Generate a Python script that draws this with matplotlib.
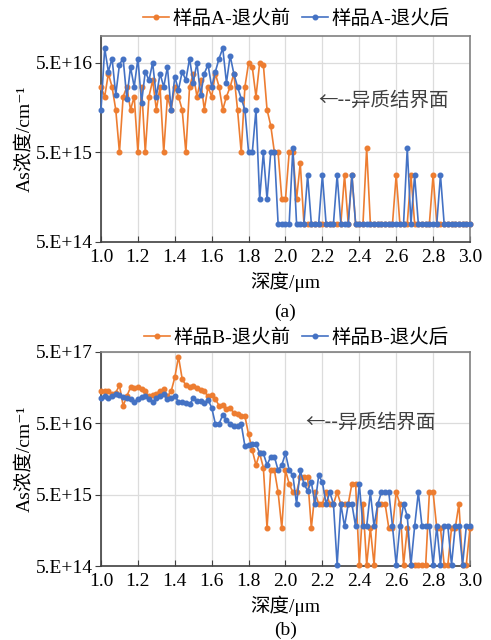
import numpy as np
import matplotlib
matplotlib.use("Agg")
import matplotlib.pyplot as plt

plt.rcParams['font.family'] = ['Liberation Serif', 'Noto Sans CJK SC', 'DejaVu Sans']

# depth grid, 0.02 um steps
depth = np.linspace(1.0, 3.0, 101)

# As concentration, units of 1e15 cm^-1
a_before = [27, 21, 38, 27, 15, 5, 21, 27, 15, 21,
            5, 27, 5, 21, 32, 15, 27, 5, 21, 15,
            27, 21, 15, 5, 27, 38, 21, 32, 15, 27,
            21, 38, 27, 15, 21, 27, 38, 15, 5, 27,
            50, 45, 21, 50, 48, 15, 10, 5, 5, 1.5,
            1.5, 5, 5, 1.5, 3.8, 0.8, 0.8, 0.8, 0.8, 0.8,
            0.8, 0.8, 0.8, 0.8, 0.8, 0.8, 2.8, 0.8, 2.8, 0.8,
            0.8, 0.8, 5.6, 0.8, 0.8, 0.8, 0.8, 0.8, 0.8, 0.8,
            2.8, 0.8, 0.8, 0.8, 2.8, 0.8, 0.8, 0.8, 0.8, 0.8,
            2.8, 0.8, 0.8, 0.8, 0.8, 0.8, 0.8, 0.8, 0.8, 0.8,
            0.8]
a_after = [15, 73, 40, 56, 22, 48, 56, 20, 45, 27,
           56, 18, 40, 32, 50, 21, 38, 27, 45, 15,
           35, 25, 40, 32, 56, 30, 50, 22, 38, 48,
           27, 40, 56, 73, 30, 60, 38, 27, 20, 15,
           5, 5, 15, 1.5, 5, 1.5, 5, 5, 0.8, 0.8,
           0.8, 0.8, 5.6, 0.8, 0.8, 0.8, 2.8, 0.8, 0.8, 0.8,
           2.8, 0.8, 0.8, 0.8, 2.8, 0.8, 0.8, 0.8, 2.8, 0.8,
           0.8, 0.8, 0.8, 0.8, 0.8, 0.8, 0.8, 0.8, 0.8, 0.8,
           0.8, 0.8, 0.8, 5.6, 0.8, 2.8, 0.8, 0.8, 0.8, 0.8,
           0.8, 0.8, 2.8, 0.8, 0.8, 0.8, 0.8, 0.8, 0.8, 0.8,
           0.8]
b_before = [144, 140, 144, 130, 135, 170, 88, 120, 160, 155,
            160, 150, 140, 120, 125, 130, 144, 150, 120, 140,
            220, 430, 210, 170, 160, 165, 155, 145, 140, 120,
            125, 110, 88, 90, 80, 82, 70, 68, 63, 63,
            35, 21, 13, 19, 12, 1.7, 11, 11, 5.4, 1.7,
            11, 7.1, 5.4, 5.4, 8.8, 8.8, 8.8, 1.7, 5.4, 3.7,
            3.7, 5.4, 3.7, 3.7, 5.4, 3.7, 3.7, 3.7, 7.1, 7.1,
            0.52, 3.7, 0.52, 1.7, 0.52, 3.7, 3.7, 3.7, 1.7, 1.7,
            5.4, 3.7, 0.52, 1.7, 0.52, 0.52, 0.52, 0.52, 0.52, 5.4,
            5.4, 1.7, 1.7, 0.52, 0.52, 1.7, 1.7, 3.7, 0.52, 0.52,
            1.7]
b_after = [115, 122, 112, 120, 130, 125, 118, 112, 108, 100,
           110, 118, 120, 108, 98, 112, 122, 128, 108, 112,
           122, 100, 98, 96, 92, 112, 104, 102, 96, 107,
           83, 49, 49, 66, 56, 49, 46, 46, 49, 24,
           25, 26, 26, 19, 19, 13, 17, 17, 11, 13,
           19, 11, 9.3, 3.7, 11, 7.1, 5.7, 7.5, 3.7, 9.3,
           7.5, 3.7, 5.4, 3.7, 0.52, 3.7, 1.8, 3.7, 3.7, 1.8,
           7.1, 1.8, 1.8, 5.4, 1.8, 3.7, 5.4, 5.4, 5.4, 1.8,
           0.52, 1.8, 3.7, 2.5, 0.52, 1.8, 5.4, 1.8, 1.8, 1.8,
           0.52, 1.8, 0.52, 1.8, 1.8, 0.52, 1.8, 1.8, 0.52, 1.8,
           1.8]

xticks = [1.0, 1.2, 1.4, 1.6, 1.8, 2.0, 2.2, 2.4, 2.6, 2.8, 3.0]
yticks_a = [5e14, 5e15, 5e16]
yticks_b = [5e14, 5e15, 5e16, 5e17]

ORANGE = '#ED7D31'
BLUE = '#4472C4'
FS = 14

fig = plt.figure(figsize=(4.91, 6.40), dpi=100)
ax1 = fig.add_axes([0.2057, 0.6219, 0.7515, 0.3219])
ax2 = fig.add_axes([0.2057, 0.1156, 0.7515, 0.3344])


def panel(ax, before, after, names, yticks, ylim, note_xy, legend_y, tag):
    ax.plot(depth, np.array(before) * 1e15, color=ORANGE, lw=1.2,
            marker='o', ms=3.3, label=names[0], clip_on=False, zorder=3)
    ax.plot(depth, np.array(after) * 1e15, color=BLUE, lw=1.2,
            marker='o', ms=3.3, label=names[1], clip_on=False, zorder=4)
    ax.set_yscale('log')
    ax.set_xlim(1.0, 3.0)
    ax.set_ylim(*ylim)
    ax.set_xticks(xticks)
    ax.set_xticklabels([f"{t:.1f}" for t in xticks], fontsize=FS)
    ax.set_yticks(yticks)
    ax.set_yticklabels([f"5.E+{int(np.log10(t / 5))}" for t in yticks], fontsize=FS)
    ax.yaxis.set_minor_locator(plt.NullLocator())
    ax.grid(True, color='#dcdcdc', lw=0.9)
    ax.set_axisbelow(True)
    ax.tick_params(axis='x', direction='in', length=4, color='#404040', pad=5)
    ax.tick_params(axis='y', direction='out', length=4, color='#404040', pad=2)
    for s in ['top', 'right']:
        ax.spines[s].set_color('#808080')
    for s in ['left', 'bottom']:
        ax.spines[s].set_color('#404040')
    for s in ax.spines.values():
        s.set_linewidth(1.2)
    ax.set_xlabel('深度/μm', fontsize=FS, labelpad=4)
    ax.set_ylabel('As浓度/cm⁻¹', fontsize=FS, labelpad=2)
    ax.text(note_xy[0], note_xy[1], '←--异质结界面', fontsize=FS,
            ha='left', va='center', color='#404040',
            family=['Noto Sans CJK SC', 'DejaVu Sans'])
    ax.legend(loc='center', bbox_to_anchor=(0.53, legend_y), ncol=2,
              frameon=False, fontsize=FS, handlelength=1.3,
              handletextpad=0.2, columnspacing=0.6)
    ax.text(0.5, tag[1], tag[0], transform=ax.transAxes, ha='center',
            va='center', fontsize=FS)


panel(ax1, a_before, a_after, ['样品A-退火前', '样品A-退火后'], yticks_a,
      (5e14, 1e17), (2.18, 1.9e16), 1.085, ('(a)', -0.34))
panel(ax2, b_before, b_after, ['样品B-退火前', '样品B-退火后'], yticks_b,
      (5e14, 5e17), (2.11, 5.2e16), 1.068, ('(b)', -0.30))

fig.savefig('out.png', dpi=100)
